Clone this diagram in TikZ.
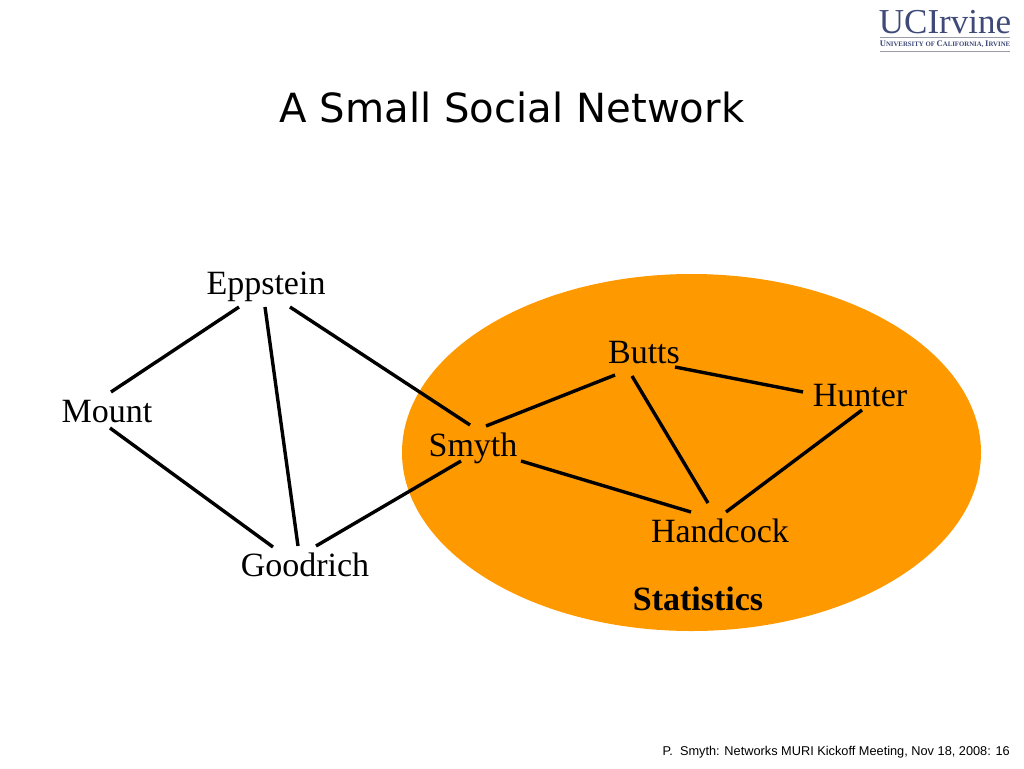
\documentclass[tikz,border=0pt]{standalone}
\usepackage{fontspec}
\setmainfont{Liberation Serif}
\newfontfamily\titlefont{DejaVu Sans}
\newfontfamily\footfont{Liberation Sans}
\definecolor{statorange}{HTML}{FF9900}
\definecolor{logoblue}{HTML}{3F4A78}
\definecolor{logogray}{HTML}{9A9CA6}
\tikzset{
  person/.style={inner sep=0pt,font=\fontsize{34}{34}\selectfont,text=black,anchor=center,text height=21pt,text depth=0pt},
  personlow/.style={person,text height=23pt},
  tie/.style={draw=black,line width=3.4pt},
  logorule/.style={draw=logogray,line width=1pt}
}
\newcommand{\tie}[4]{\draw[tie] ([shift={(#2)}]#1.center) -- ([shift={(#4)}]#3.center);}
\begin{document}
\begin{tikzpicture}[x=1pt,y=-1pt]
\useasboundingbox (0,0) rectangle (1024,768);
\fill[white] (0,0) rectangle (1024,768);
\fill[statorange] (691.5,452.5) ellipse [x radius=289.5,y radius=178.5];
\node[inner sep=0pt,font=\titlefont\fontsize{40.2}{40.2}\selectfont] (title) at (512,108) {A Small Social Network};
\node[person] (eppstein) at (266,284) {Eppstein};
\node[person] (mount) at (107,412) {Mount};
\node[person] (smyth) at (473,446) {Smyth};
\node[personlow] (goodrich) at (305,565) {Goodrich};
\node[personlow] (butts) at (644,352) {Butts};
\node[personlow] (hunter) at (860,395) {Hunter};
\node[personlow] (handcock) at (720,531) {Handcock};
\node[personlow,font=\bfseries\fontsize{34}{34}\selectfont] (statistics) at (698,599) {Statistics};
\tie{eppstein}{-27,23}{mount}{4,-20}
\tie{eppstein}{-1,23}{goodrich}{-7,-19}
\tie{eppstein}{24,23}{smyth}{-3,-21}
\tie{mount}{3,16}{goodrich}{-32,-18}
\tie{goodrich}{11,-19}{smyth}{-12,15}
\tie{smyth}{13,-20}{butts}{-29,23}
\tie{smyth}{48,15}{handcock}{-29,-19}
\tie{butts}{-12,24}{handcock}{-12,-28}
\tie{butts}{31,15}{hunter}{-57,-3}
\tie{handcock}{6,-19}{hunter}{2,15}
\node[inner sep=0pt,anchor=east,font=\footfont\fontsize{12.76}{12.76}\selectfont] (footer) at (1010,752) {P.\ \ Smyth: Networks MURI Kickoff Meeting, Nov 18, 2008: 16};
\node[inner sep=0pt,anchor=center,text=logoblue,font=\fontsize{35}{35}\selectfont] (logoword) at (945,22) {UCIrvine};
\draw[logorule] (879.5,37.5) -- (1010,37.5);
\node[inner sep=0pt,anchor=center,text=logoblue,font=\bfseries\fontsize{8.6}{8.6}\selectfont] (logosub) at (945,44.5) {U\fontsize{6.8}{6.8}\selectfont NIVERSITY OF \fontsize{8.6}{8.6}\selectfont C\fontsize{6.8}{6.8}\selectfont ALIFORNIA, \fontsize{8.6}{8.6}\selectfont I\fontsize{6.8}{6.8}\selectfont RVINE};
\draw[logorule] (879.5,51.5) -- (1010,51.5);
\end{tikzpicture}
\end{document}
